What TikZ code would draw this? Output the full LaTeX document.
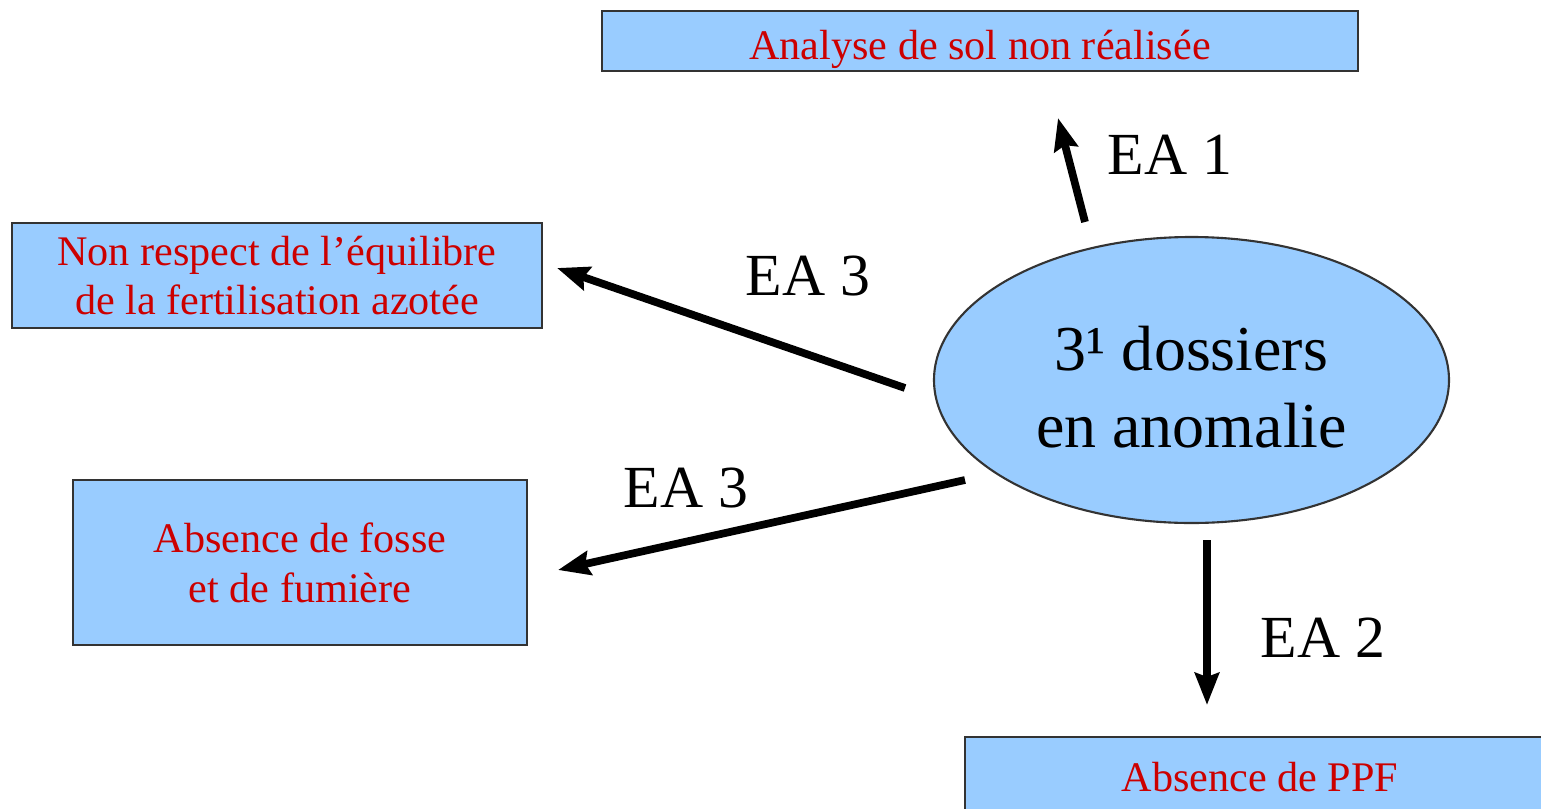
\documentclass[tikz,border=0pt]{standalone}
\usepackage{fontspec}
\setmainfont{Liberation Serif}
\usetikzlibrary{arrows.meta,shapes.geometric}
\definecolor{boxblue}{HTML}{99CCFF}
\definecolor{txtred}{HTML}{CC0000}
\tikzset{
  causebox/.style={draw=black!80, line width=0.6pt, fill=boxblue, text=txtred,
    align=center, inner sep=0pt, font=\fontsize{12}{14.2}\selectfont},
  eatag/.style={font=\fontsize{17}{20}\selectfont},
  fleche/.style={line width=2.2pt, -{Stealth[length=0.32cm,width=0.24cm,inset=0.04cm]}}
}
\begin{document}
\begin{tikzpicture}
  \useasboundingbox (0,0) rectangle (15.41,-8.08);
  \clip (0,0) rectangle (15.41,-8.08);

  % Central ellipse
  \node[ellipse, draw=black!80, line width=0.6pt, fill=boxblue, inner sep=0pt,
        minimum width=5.15cm, minimum height=2.86cm] (dos) at (11.915,-3.80) {};
  \node[align=center, font=\fontsize{18.2}{21.8}\selectfont] (dostxt)
        at ([yshift=-0.07cm]dos.center) {3¹ dossiers\\en anomalie};

  % Boxes
  \node[causebox, minimum width=7.56cm, minimum height=0.60cm,
        text height=0.36cm, text depth=0pt] (sol) at (9.80,-0.41)
        {Analyse de sol non réalisée};
  \node[causebox, minimum width=5.30cm, minimum height=1.05cm] (azote) at (2.77,-2.755)
        {Non respect de l’équilibre\\de la fertilisation azotée};
  \node[causebox, minimum width=4.54cm, minimum height=1.65cm] (fosse) at (3.00,-5.625)
        {Absence de fosse\\et de fumière};
  \node[causebox, minimum width=5.90cm, minimum height=0.80cm] (ppf) at (12.60,-7.77)
        {Absence de PPF};

  % Arrow ends
  \coordinate (s1) at (10.85,-2.22);  \coordinate (e1) at (10.58,-1.18);
  \coordinate (s2) at (9.05,-3.88);   \coordinate (e2) at (5.57,-2.68);
  \coordinate (s3) at (9.65,-4.80);   \coordinate (e3) at (5.58,-5.70);
  \coordinate (s4) at (12.07,-5.40);  \coordinate (e4) at (12.07,-7.05);

  % Arrows
  \foreach \s/\e in {s1/e1,s2/e2,s3/e3,s4/e4}
    \draw[fleche] (\s) -- (\e);

  % Labels
  \node[eatag] (ea1) at (11.70,-1.55) {EA 1};
  \node[eatag] (ea3a) at (8.08,-2.76) {EA 3};
  \node[eatag] (ea3b) at (6.86,-4.88) {EA 3};
  \node[eatag] (ea2) at (13.23,-6.38) {EA 2};
\end{tikzpicture}
\end{document}
